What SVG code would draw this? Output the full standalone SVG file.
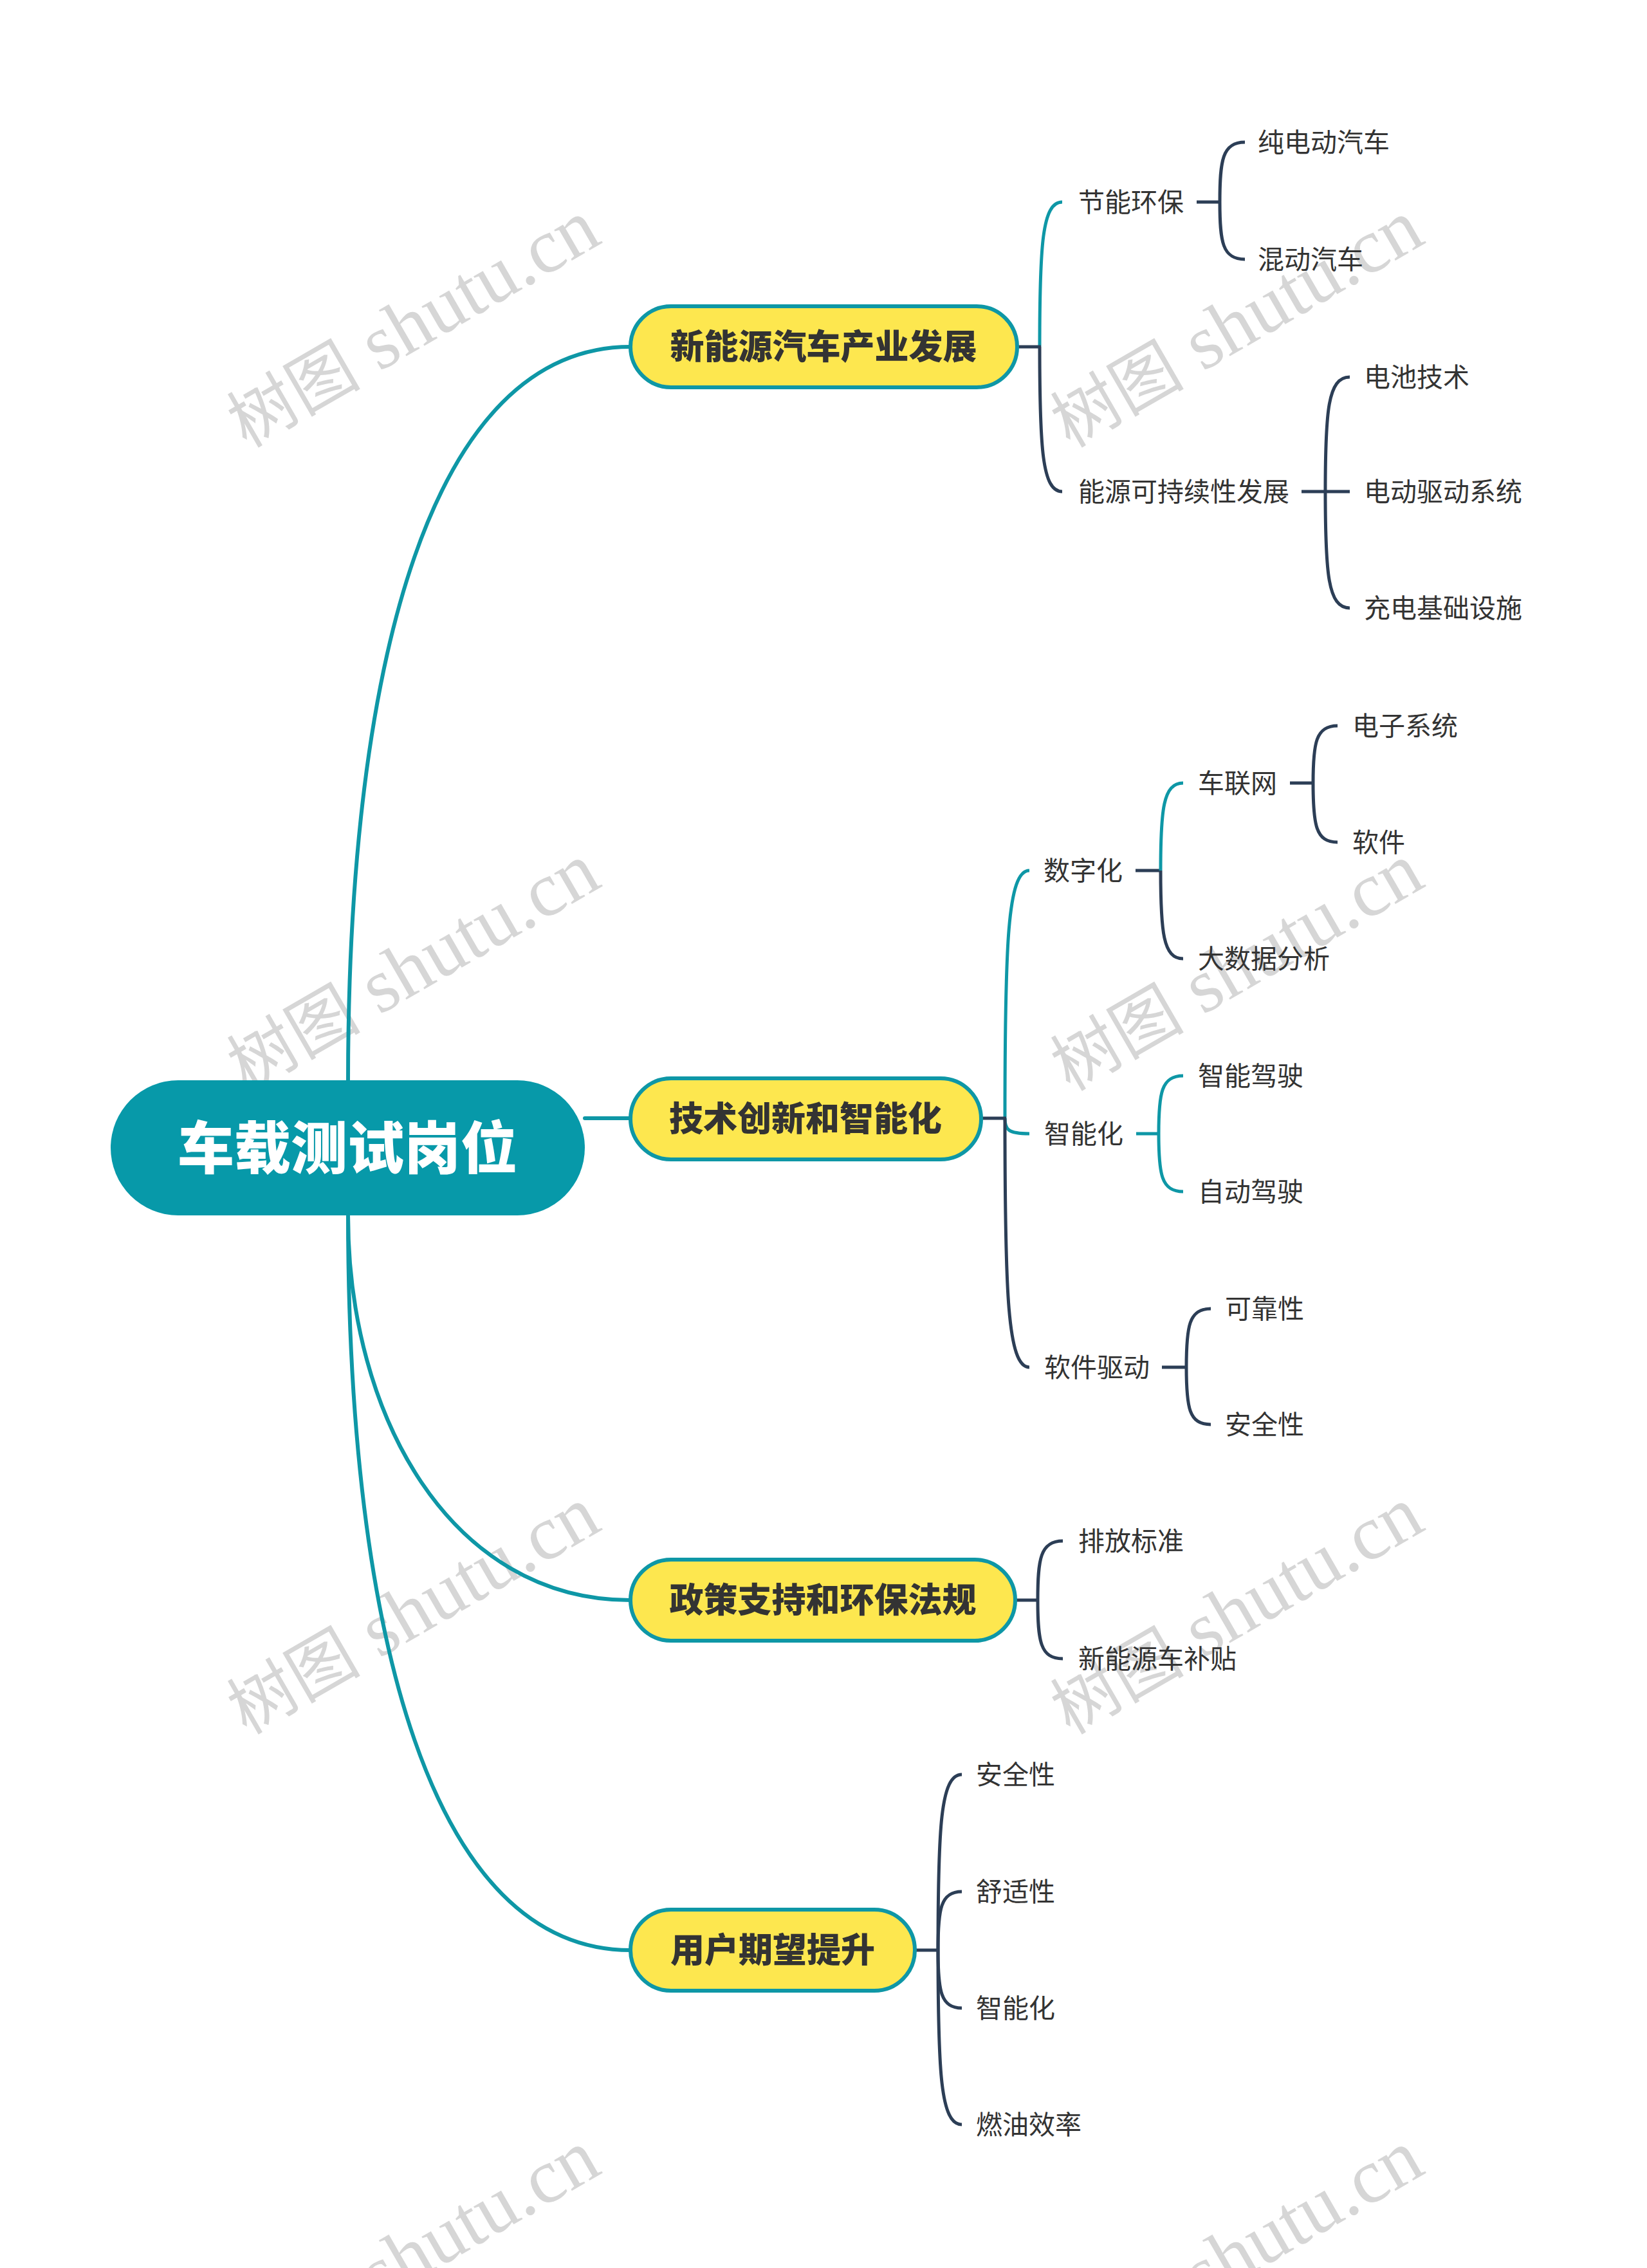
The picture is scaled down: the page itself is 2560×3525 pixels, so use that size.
<svg xmlns="http://www.w3.org/2000/svg" width="2560" height="3525" viewBox="0 0 2560 3525">
<style>
.wm{font-family:"Liberation Serif","Noto Sans CJK SC",serif;font-size:120px;fill:#d6d6d6}
.wm .cjk{font-size:104px}
.main{fill:none;stroke:#0e97a6;stroke-width:6;stroke-linecap:round}
.t{fill:none;stroke:#0e97a6;stroke-width:5;stroke-linecap:butt}
.n{fill:none;stroke:#2c3e56;stroke-width:5;stroke-linecap:butt}
.root{fill:#0799a9}
.rootText{font-family:"Noto Sans CJK SC","Noto Sans",sans-serif;font-size:88px;font-weight:900;fill:#ffffff;text-anchor:middle}
.box{fill:#fde74f;stroke:#0e97a6;stroke-width:6}
.boxText{font-family:"Noto Sans CJK SC","Noto Sans",sans-serif;font-size:53px;font-weight:900;fill:#333333;text-anchor:middle}
.leaf{font-family:"Noto Sans CJK SC","Noto Sans",sans-serif;font-size:41px;fill:#333333}
</style>
<rect width="2560" height="3525" fill="#ffffff"/>
<g id="watermarks">
<text class="wm" x="383" y="697" transform="rotate(-30 383 697)"><tspan class="cjk">树图</tspan> shutu.cn</text>
<text class="wm" x="1663" y="697" transform="rotate(-30 1663 697)"><tspan class="cjk">树图</tspan> shutu.cn</text>
<text class="wm" x="383" y="1697" transform="rotate(-30 383 1697)"><tspan class="cjk">树图</tspan> shutu.cn</text>
<text class="wm" x="1663" y="1697" transform="rotate(-30 1663 1697)"><tspan class="cjk">树图</tspan> shutu.cn</text>
<text class="wm" x="383" y="2697" transform="rotate(-30 383 2697)"><tspan class="cjk">树图</tspan> shutu.cn</text>
<text class="wm" x="1663" y="2697" transform="rotate(-30 1663 2697)"><tspan class="cjk">树图</tspan> shutu.cn</text>
<text class="wm" x="383" y="3697" transform="rotate(-30 383 3697)"><tspan class="cjk">树图</tspan> shutu.cn</text>
<text class="wm" x="1663" y="3697" transform="rotate(-30 1663 3697)"><tspan class="cjk">树图</tspan> shutu.cn</text>
</g>
<g id="connectors">
<path class="main" d="M541,1679 C541,1030 670,539 980,539"/>
<path class="main" d="M909,1738 L980,1738"/>
<path class="main" d="M541,1889 C541,2200 700,2487 980,2487"/>
<path class="main" d="M541,1889 C541,2540 670,3031 980,3031"/>
<path class="t" d="M1616,539 C1616,381 1620,314 1651,314"/>
<path class="n" d="M1616,539 C1616,697 1620,764 1651,764"/>
<path class="n" d="M1581,539 L1618,539"/>
<path class="n" d="M1860,314 L1896,314"/>
<path class="n" d="M1896,314 C1896,249 1900,221 1935,221"/>
<path class="n" d="M1896,314 C1896,376 1900,403 1935,403"/>
<path class="n" d="M2023,764 L2098,764"/>
<path class="n" d="M2060,764 C2060,639 2064,586 2098,586"/>
<path class="n" d="M2060,764 C2060,891 2064,945 2098,945"/>
<path class="t" d="M1562,1738 C1562,1468 1566,1353 1600,1353"/>
<path class="t" d="M1562,1738 C1562,1755 1566,1762 1600,1762"/>
<path class="n" d="M1562,1738 C1562,2009 1566,2125 1600,2125"/>
<path class="n" d="M1525,1738 L1564,1738"/>
<path class="n" d="M1765,1353 L1804,1353"/>
<path class="t" d="M1804,1353 C1804,1258 1808,1217 1839,1217"/>
<path class="n" d="M1804,1353 C1804,1449 1808,1490 1839,1490"/>
<path class="n" d="M2005,1217 L2041,1217"/>
<path class="n" d="M2041,1217 C2041,1155 2045,1128 2079,1128"/>
<path class="n" d="M2041,1217 C2041,1282 2045,1309 2079,1309"/>
<path class="t" d="M1766,1762 L1801,1762"/>
<path class="t" d="M1801,1762 C1801,1699 1805,1672 1839,1672"/>
<path class="t" d="M1801,1762 C1801,1825 1805,1852 1839,1852"/>
<path class="n" d="M1806,2125 L1844,2125"/>
<path class="n" d="M1844,2125 C1844,2061 1848,2034 1882,2034"/>
<path class="n" d="M1844,2125 C1844,2188 1848,2214 1882,2214"/>
<path class="n" d="M1578,2487 L1613,2487"/>
<path class="n" d="M1613,2487 C1613,2423 1617,2395 1652,2395"/>
<path class="n" d="M1613,2487 C1613,2551 1617,2578 1652,2578"/>
<path class="n" d="M1422,3031 L1458,3031"/>
<path class="n" d="M1458,3031 C1458,2840 1462,2758 1495,2758"/>
<path class="n" d="M1458,3031 C1458,2967 1462,2940 1495,2940"/>
<path class="n" d="M1458,3031 C1458,3094 1462,3121 1495,3121"/>
<path class="n" d="M1458,3031 C1458,3221 1462,3302 1495,3302"/>
</g>
<g id="root">
<rect class="root" x="172" y="1679" width="737" height="210" rx="105"/>
<text class="rootText" x="540" y="1816">车载测试岗位</text>
</g>
<g id="b1">
<rect class="box" x="980" y="476" width="601" height="126" rx="63"/>
<text class="boxText" x="1280" y="558">新能源汽车产业发展</text>
</g>
<g id="b2">
<rect class="box" x="980" y="1676" width="545" height="126" rx="63"/>
<text class="boxText" x="1252" y="1758">技术创新和智能化</text>
</g>
<g id="b3">
<rect class="box" x="980" y="2424" width="598" height="126" rx="63"/>
<text class="boxText" x="1279" y="2506">政策支持和环保法规</text>
</g>
<g id="b4">
<rect class="box" x="980" y="2968" width="442" height="126" rx="63"/>
<text class="boxText" x="1201" y="3050">用户期望提升</text>
</g>
<g id="b1-1"><text class="leaf" x="1676" y="329">节能环保</text></g>
<g id="b1-1-1"><text class="leaf" x="1955" y="236">纯电动汽车</text></g>
<g id="b1-1-2"><text class="leaf" x="1955" y="418">混动汽车</text></g>
<g id="b1-2"><text class="leaf" x="1676" y="779">能源可持续性发展</text></g>
<g id="b1-2-1"><text class="leaf" x="2120" y="601">电池技术</text></g>
<g id="b1-2-2"><text class="leaf" x="2120" y="779">电动驱动系统</text></g>
<g id="b1-2-3"><text class="leaf" x="2120" y="960">充电基础设施</text></g>
<g id="b2-1"><text class="leaf" x="1622" y="1368">数字化</text></g>
<g id="b2-1-1"><text class="leaf" x="1862" y="1232">车联网</text></g>
<g id="b2-1-1-1"><text class="leaf" x="2102" y="1143">电子系统</text></g>
<g id="b2-1-1-2"><text class="leaf" x="2102" y="1324">软件</text></g>
<g id="b2-1-2"><text class="leaf" x="1862" y="1505">大数据分析</text></g>
<g id="b2-2"><text class="leaf" x="1623" y="1777">智能化</text></g>
<g id="b2-2-1"><text class="leaf" x="1862" y="1687">智能驾驶</text></g>
<g id="b2-2-2"><text class="leaf" x="1862" y="1867">自动驾驶</text></g>
<g id="b2-3"><text class="leaf" x="1623" y="2140">软件驱动</text></g>
<g id="b2-3-1"><text class="leaf" x="1904" y="2049">可靠性</text></g>
<g id="b2-3-2"><text class="leaf" x="1904" y="2229">安全性</text></g>
<g id="b3-1"><text class="leaf" x="1676" y="2410">排放标准</text></g>
<g id="b3-2"><text class="leaf" x="1676" y="2593">新能源车补贴</text></g>
<g id="b4-1"><text class="leaf" x="1517" y="2773">安全性</text></g>
<g id="b4-2"><text class="leaf" x="1517" y="2955">舒适性</text></g>
<g id="b4-3"><text class="leaf" x="1517" y="3136">智能化</text></g>
<g id="b4-4"><text class="leaf" x="1517" y="3317">燃油效率</text></g>
</svg>
